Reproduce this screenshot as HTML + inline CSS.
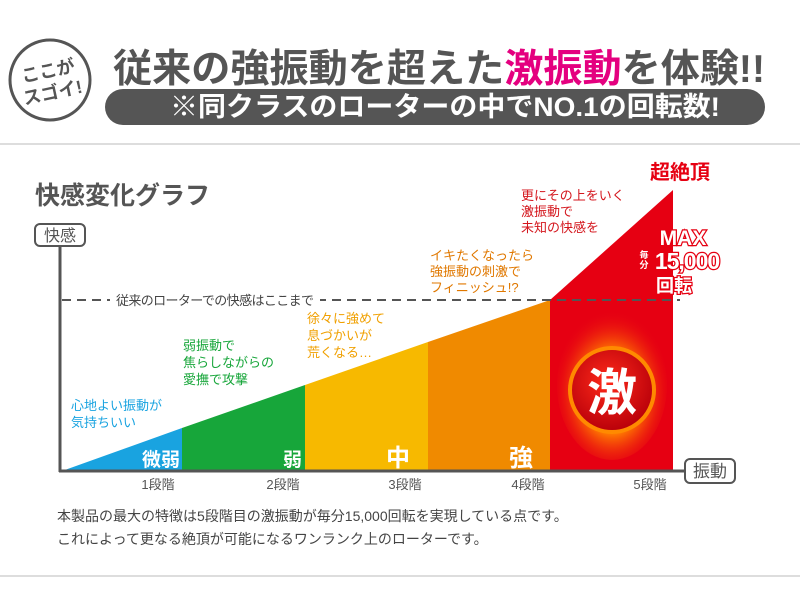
<!DOCTYPE html>
<html><head><meta charset="utf-8"><style>
body{margin:0;width:800px;height:600px;background:#fff;overflow:hidden}
text{font-family:"Liberation Sans","Noto Sans CJK JP",sans-serif}
</style></head><body>
<svg width="800" height="600" viewBox="0 0 800 600">
<defs>
<radialGradient id="fire" cx="50%" cy="55%" r="55%">
<stop offset="0" stop-color="#ffd000"/><stop offset="0.5" stop-color="#ff7a00"/><stop offset="1" stop-color="#e60012" stop-opacity="0"/>
</radialGradient>
<radialGradient id="ball" cx="45%" cy="40%" r="60%">
<stop offset="0" stop-color="#ff2a1a"/><stop offset="1" stop-color="#b8000a"/>
</radialGradient>
</defs>
<circle cx="50" cy="80" r="40" fill="#fff" stroke="#555" stroke-width="3"/>
<text x="50" y="77" font-size="18" font-weight="bold" fill="#555" text-anchor="middle" transform="rotate(-12 50 80)">ここが</text>
<text x="50" y="99" font-size="18" font-weight="bold" fill="#555" text-anchor="middle" transform="rotate(-12 50 80)">スゴイ!</text>
<text x="113" y="82" font-size="39" font-weight="bold" fill="#555" textLength="652" lengthAdjust="spacingAndGlyphs">従来の強振動を超えた<tspan fill="#e4007f">激振動</tspan>を体験!!</text>
<rect x="105" y="89" width="660" height="36" rx="18" fill="#555"/>
<text x="170" y="116" font-size="27" font-weight="bold" fill="#fff" textLength="550" lengthAdjust="spacingAndGlyphs">※同クラスのローターの中でNO.1の回転数!</text>
<line x1="0" y1="144" x2="800" y2="144" stroke="#ddd" stroke-width="2"/>
<line x1="0" y1="576" x2="800" y2="576" stroke="#ddd" stroke-width="2"/>
<text x="35" y="204" font-size="25" font-weight="bold" fill="#555">快感変化グラフ</text>
<polygon points="62,471 182,428 182,471" fill="#19a3e0"/>
<polygon points="182,471 182,428 305,385 305,471" fill="#17a63a"/>
<polygon points="305,471 305,385 428,342 428,471" fill="#f7b900"/>
<polygon points="428,471 428,342 550,300 550,471" fill="#f08a00"/>
<polygon points="550,471 550,300 673,190 673,471" fill="#e60012"/>
<ellipse cx="612" cy="385" rx="55" ry="75" fill="url(#fire)"/>
<circle cx="612" cy="390" r="42" fill="url(#ball)" stroke="#ff8a00" stroke-width="4"/>
<text x="612" y="410" font-size="50" fill="#fff" text-anchor="middle" font-weight="bold">激</text>
<line x1="62" y1="300" x2="680" y2="300" stroke="#555" stroke-width="2" stroke-dasharray="9,6"/>
<rect x="110" y="290" width="210" height="20" fill="#fff"/>
<text x="116" y="305" font-size="13" fill="#444" textLength="198">従来のローターでの快感はここまで</text>
<line x1="60" y1="245" x2="60" y2="472" stroke="#555" stroke-width="3"/>
<line x1="59" y1="471" x2="688" y2="471" stroke="#555" stroke-width="3"/>
<rect x="35" y="224" width="50" height="22" rx="5" fill="#fff" stroke="#555" stroke-width="2"/>
<text x="60" y="241" font-size="16" fill="#555" text-anchor="middle">快感</text>
<rect x="685" y="459" width="50" height="24" rx="5" fill="#fff" stroke="#555" stroke-width="2"/>
<text x="710" y="477" font-size="17" fill="#555" text-anchor="middle">振動</text>
<g font-size="19" font-weight="bold" fill="#fff" text-anchor="end">
<text x="180" y="466">微弱</text><text x="302" y="466">弱</text>
<text x="410" y="466" font-size="24">中</text><text x="533" y="466" font-size="24">強</text></g>
<g font-size="13" fill="#555" text-anchor="middle">
<text x="158" y="489">1段階</text><text x="283" y="489">2段階</text><text x="405" y="489">3段階</text><text x="528" y="489">4段階</text><text x="650" y="489">5段階</text></g>
<g font-size="13">
<text x="71" y="410" fill="#19a3e0">心地よい振動が</text><text x="71" y="427" fill="#19a3e0">気持ちいい</text>
<text x="183" y="350" fill="#17a63a">弱振動で</text><text x="183" y="367" fill="#17a63a">焦らしながらの</text><text x="183" y="384" fill="#17a63a">愛撫で攻撃</text>
<text x="307" y="323" fill="#f0a000">徐々に強めて</text><text x="307" y="340" fill="#f0a000">息づかいが</text><text x="307" y="357" fill="#f0a000">荒くなる…</text>
<text x="430" y="260" fill="#e07800">イキたくなったら</text><text x="430" y="276" fill="#e07800">強振動の刺激で</text><text x="430" y="292" fill="#e07800">フィニッシュ!?</text>
<text x="521" y="200" fill="#d4161d">更にその上をいく</text><text x="521" y="216" fill="#d4161d">激振動で</text><text x="521" y="232" fill="#d4161d">未知の快感を</text>
</g>
<text x="710" y="179" font-size="20" font-weight="bold" fill="#e60012" text-anchor="end">超絶頂</text>
<g font-weight="bold" fill="#fff" stroke="#e60012" stroke-width="2.5" paint-order="stroke" text-anchor="middle">
<text x="683" y="245" font-size="21">MAX</text>
<text x="687" y="269" font-size="23" letter-spacing="-1">15,000</text>
<text x="674" y="292" font-size="18">回転</text>
<text x="644" y="258" font-size="9" stroke-width="1.5">毎</text>
<text x="644" y="268" font-size="9" stroke-width="1.5">分</text>
</g>
<text x="57" y="521" font-size="14" fill="#444">本製品の最大の特徴は5段階目の激振動が毎分15,000回転を実現している点です。</text>
<text x="57" y="544" font-size="14" fill="#444">これによって更なる絶頂が可能になるワンランク上のローターです。</text>
</svg>
</body></html>
